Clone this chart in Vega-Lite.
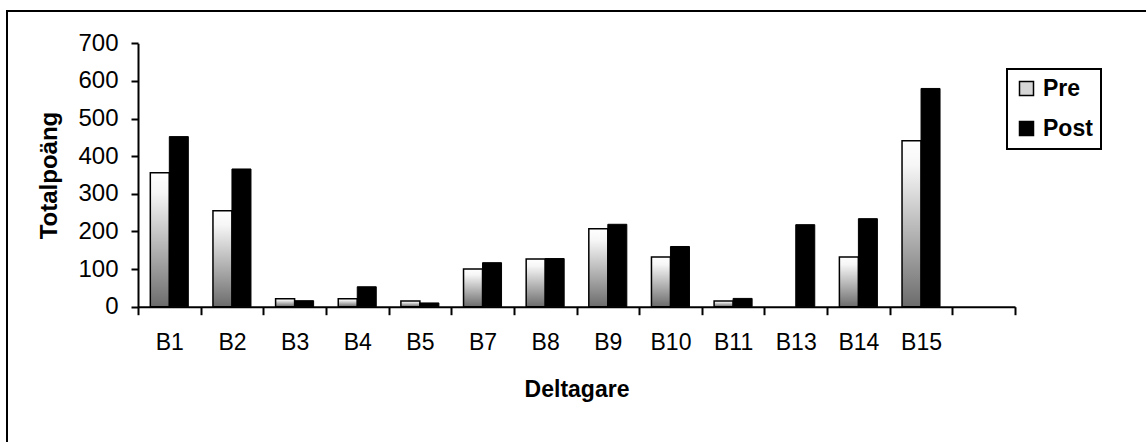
{
  "$schema": "https://vega.github.io/schema/vega-lite/v6.json",
  "width": 1142,
  "height": 434,
  "autosize": {"type": "none"},
  "padding": {"left": 7, "top": 11, "right": -3, "bottom": -3},
  "background": "white",
  "config": {
    "view": {"stroke": "black", "strokeWidth": 2},
    "font": "Liberation Sans"
  },
  "data": {
    "values": [
      {"participant": "B1", "phase": "Pre", "value": 356},
      {"participant": "B1", "phase": "Post", "value": 452},
      {"participant": "B2", "phase": "Pre", "value": 255},
      {"participant": "B2", "phase": "Post", "value": 366},
      {"participant": "B3", "phase": "Pre", "value": 21},
      {"participant": "B3", "phase": "Post", "value": 16},
      {"participant": "B4", "phase": "Pre", "value": 21},
      {"participant": "B4", "phase": "Post", "value": 53},
      {"participant": "B5", "phase": "Pre", "value": 15},
      {"participant": "B5", "phase": "Post", "value": 10},
      {"participant": "B7", "phase": "Pre", "value": 100},
      {"participant": "B7", "phase": "Post", "value": 117},
      {"participant": "B8", "phase": "Pre", "value": 127},
      {"participant": "B8", "phase": "Post", "value": 128},
      {"participant": "B9", "phase": "Pre", "value": 207},
      {"participant": "B9", "phase": "Post", "value": 219},
      {"participant": "B10", "phase": "Pre", "value": 132},
      {"participant": "B10", "phase": "Post", "value": 160},
      {"participant": "B11", "phase": "Pre", "value": 15},
      {"participant": "B11", "phase": "Post", "value": 22},
      {"participant": "B13", "phase": "Post", "value": 218},
      {"participant": "B14", "phase": "Pre", "value": 132},
      {"participant": "B14", "phase": "Post", "value": 234},
      {"participant": "B15", "phase": "Pre", "value": 441},
      {"participant": "B15", "phase": "Post", "value": 580}
    ]
  },
  "encoding": {
    "x": {
      "field": "participant",
      "type": "nominal",
      "sort": null,
      "scale": {
        "domain": ["B1", "B2", "B3", "B4", "B5", "B7", "B8", "B9", "B10", "B11", "B13", "B14", "B15", " "],
        "range": [131, 1008],
        "paddingInner": 0,
        "paddingOuter": 0
      },
      "axis": {
        "title": "Deltagare",
        "offset": -138.3,
        "tickBand": "extent",
        "labelAngle": 0,
        "labelFontSize": 23,
        "labelColor": "black",
        "labelPadding": 17,
        "tickSize": 8,
        "tickWidth": 2,
        "tickColor": "black",
        "domainColor": "black",
        "domainWidth": 2,
        "titleFontSize": 23,
        "titleFontWeight": "bold",
        "titleColor": "black",
        "titlePadding": 24,
        "grid": false
      }
    },
    "xOffset": {
      "field": "phase",
      "type": "nominal",
      "sort": ["Pre", "Post"],
      "scale": {"domain": ["Pre", "Post"], "paddingInner": 0, "paddingOuter": 0.648}
    },
    "y": {
      "field": "value",
      "type": "quantitative",
      "scale": {"domain": [0, 700], "range": [295.7, 32.3], "nice": false, "zero": true},
      "axis": {
        "title": "Totalpoäng",
        "offset": -131,
        "values": [0, 100, 200, 300, 400, 500, 600, 700],
        "labelFontSize": 24,
        "labelColor": "black",
        "labelPadding": 13,
        "tickSize": 7,
        "tickWidth": 2,
        "tickColor": "black",
        "domainColor": "black",
        "domainWidth": 2,
        "titleFontSize": 24,
        "titleFontWeight": "bold",
        "titleColor": "black",
        "titlePadding": 16,
        "grid": false
      }
    }
  },
  "layer": [
    {
      "transform": [{"filter": "datum.phase === 'Pre'"}],
      "mark": {
        "type": "bar",
        "fill": {
          "gradient": "linear",
          "x1": 0, "y1": 0, "x2": 0, "y2": 1,
          "stops": [
            {"offset": 0, "color": "#ffffff"},
            {"offset": 0.15, "color": "#f6f6f6"},
            {"offset": 1, "color": "#6c6c6c"}
          ]
        },
        "stroke": "black",
        "strokeWidth": 1.5
      }
    },
    {
      "transform": [{"filter": "datum.phase === 'Post'"}],
      "mark": {"type": "bar", "stroke": "black", "strokeWidth": 1},
      "encoding": {
        "color": {
          "field": "phase",
          "type": "nominal",
          "scale": {"domain": ["Pre", "Post"], "range": ["#d6d6d6", "#000000"]},
          "legend": {
            "orient": "none",
            "legendX": 1000,
            "legendY": 58,
            "title": null,
            "labelFontSize": 23,
            "labelFontWeight": "bold",
            "labelColor": "black",
            "symbolType": "square",
            "symbolSize": 196,
            "symbolStrokeColor": "black",
            "symbolStrokeWidth": 1.5,
            "strokeColor": "black",
            "fillColor": "white",
            "padding": 8,
            "rowPadding": 16,
            "labelOffset": 5,
            "encode": {"legend": {"update": {"strokeWidth": {"value": 2}}}}
          }
        }
      }
    }
  ]
}
